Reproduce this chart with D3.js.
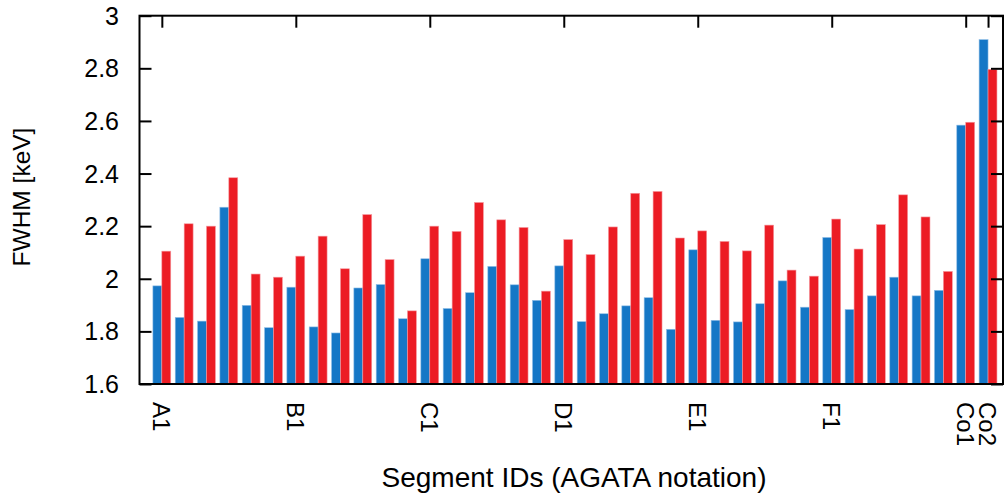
<!DOCTYPE html>
<html>
<head>
<meta charset="utf-8">
<script src="https://cdn.jsdelivr.net/npm/d3@7"></script>
<style>
  html, body { margin: 0; padding: 0; background: #fff; }
  svg { display: block; }
  text { font-family: "Liberation Sans", Arial, Helvetica, sans-serif; fill: #000; }
</style>
</head>
<body>
<svg id="chart" width="1005" height="493"></svg>
<script>
// ---- data ----
const categories = [
  "A1","A2","A3","A4","A5","A6",
  "B1","B2","B3","B4","B5","B6",
  "C1","C2","C3","C4","C5","C6",
  "D1","D2","D3","D4","D5","D6",
  "E1","E2","E3","E4","E5","E6",
  "F1","F2","F3","F4","F5","F6",
  "Co1","Co2"
];
const blueValues = [
  1.973, 1.853, 1.839, 2.272, 1.899, 1.814,
  1.968, 1.817, 1.794, 1.965, 1.978, 1.848,
  2.076, 1.887, 1.947, 2.047, 1.977, 1.918,
  2.049, 1.837, 1.867, 1.897, 1.928, 1.808,
  2.110, 1.842, 1.836, 1.905, 1.992, 1.892,
  2.157, 1.883, 1.935, 2.006, 1.935, 1.956,
  2.584, 2.909
];
const redValues = [
  2.105, 2.209, 2.200, 2.384, 2.018, 2.006,
  2.086, 2.162, 2.038, 2.244, 2.073, 1.878,
  2.200, 2.180, 2.290, 2.224, 2.195, 1.953,
  2.149, 2.092, 2.197, 2.325, 2.332, 2.155,
  2.182, 2.142, 2.106, 2.204, 2.033, 2.010,
  2.227, 2.113, 2.206, 2.319, 2.235, 2.028,
  2.595, 2.796
];
const xTickLabels = ["A1","B1","C1","D1","E1","F1","Co1","Co2"];
const yTicks = [1.6, 1.8, 2.0, 2.2, 2.4, 2.6, 2.8, 3.0];
const yLabel = "FWHM [keV]";
const xLabel = "Segment IDs (AGATA notation)";

// ---- layout ----
const svg = d3.select("#chart");
const pL = 139.5, pR = 1003, pT = 15.7, pB = 384;
const x = d3.scaleLinear().domain([-1, 37.67]).range([pL, pR]);
const y = d3.scaleLinear().domain([1.6, 3.0]).range([pB, pT]);
const barW = 0.4;
const blue = "#1577c6", red = "#ec1c24";

// bars
const g = svg.append("g");
g.selectAll("rect.blue").data(blueValues).enter().append("rect")
  .attr("class", "blue")
  .attr("x", (d, i) => x(i - barW))
  .attr("width", (d, i) => x(i) - x(i - barW))
  .attr("y", d => y(d))
  .attr("height", d => y(1.6) - y(d))
  .attr("fill", blue)
  .attr("stroke", "#8fbde6").attr("stroke-width", 0.6);
g.selectAll("rect.red").data(redValues).enter().append("rect")
  .attr("class", "red")
  .attr("x", (d, i) => x(i))
  .attr("width", (d, i) => x(i + barW) - x(i))
  .attr("y", d => y(d))
  .attr("height", d => y(1.6) - y(d))
  .attr("fill", red)
  .attr("stroke", "#f59aa0").attr("stroke-width", 0.6);

// y axis (left) with inward ticks
const yAxisL = d3.axisRight(y).tickValues(yTicks).tickSize(12).tickFormat("");
svg.append("g").attr("transform", `translate(${pL},0)`).call(yAxisL)
  .call(s => s.select(".domain").remove())
  .selectAll("line").attr("stroke", "#000").attr("stroke-width", 2);
// y axis (right) with inward ticks
const yAxisR = d3.axisLeft(y).tickValues(yTicks).tickSize(12).tickFormat("");
svg.append("g").attr("transform", `translate(${pR},0)`).call(yAxisR)
  .call(s => s.select(".domain").remove())
  .selectAll("line").attr("stroke", "#000").attr("stroke-width", 2);
// y tick labels
svg.append("g").selectAll("text").data(yTicks).enter().append("text")
  .attr("x", 119)
  .attr("y", d => y(d))
  .attr("dy", "0.36em")
  .attr("text-anchor", "end")
  .attr("font-size", 25)
  .text(d => d3.format("~g")(d));

// top axis ticks (mirror) at labelled categories
const tickIdx = xTickLabels.map(l => categories.indexOf(l));
const xTop = d3.axisBottom(x).tickValues(tickIdx).tickSize(12).tickFormat("");
svg.append("g").attr("transform", `translate(0,${pT})`).call(xTop)
  .call(s => s.select(".domain").remove())
  .selectAll("line").attr("stroke", "#000").attr("stroke-width", 2);

// x tick labels (rotated, reading top to bottom)
svg.append("g").selectAll("text").data(tickIdx).enter().append("text")
  .attr("transform", d => `translate(${x(d)},402) rotate(90)`)
  .attr("dy", "0.36em")
  .attr("text-anchor", "start")
  .attr("font-size", 24)
  .text(d => categories[d]);

// frame
svg.append("rect")
  .attr("x", pL).attr("y", pT)
  .attr("width", pR - pL).attr("height", pB - pT)
  .attr("fill", "none").attr("stroke", "#000").attr("stroke-width", 2);

// axis titles
svg.append("text")
  .attr("transform", `translate(30,197) rotate(-90)`)
  .attr("text-anchor", "middle")
  .attr("font-size", 24.5)
  .text(yLabel);
svg.append("text")
  .attr("x", 574).attr("y", 487)
  .attr("text-anchor", "middle")
  .attr("font-size", 28)
  .text(xLabel);
</script>
</body>
</html>
